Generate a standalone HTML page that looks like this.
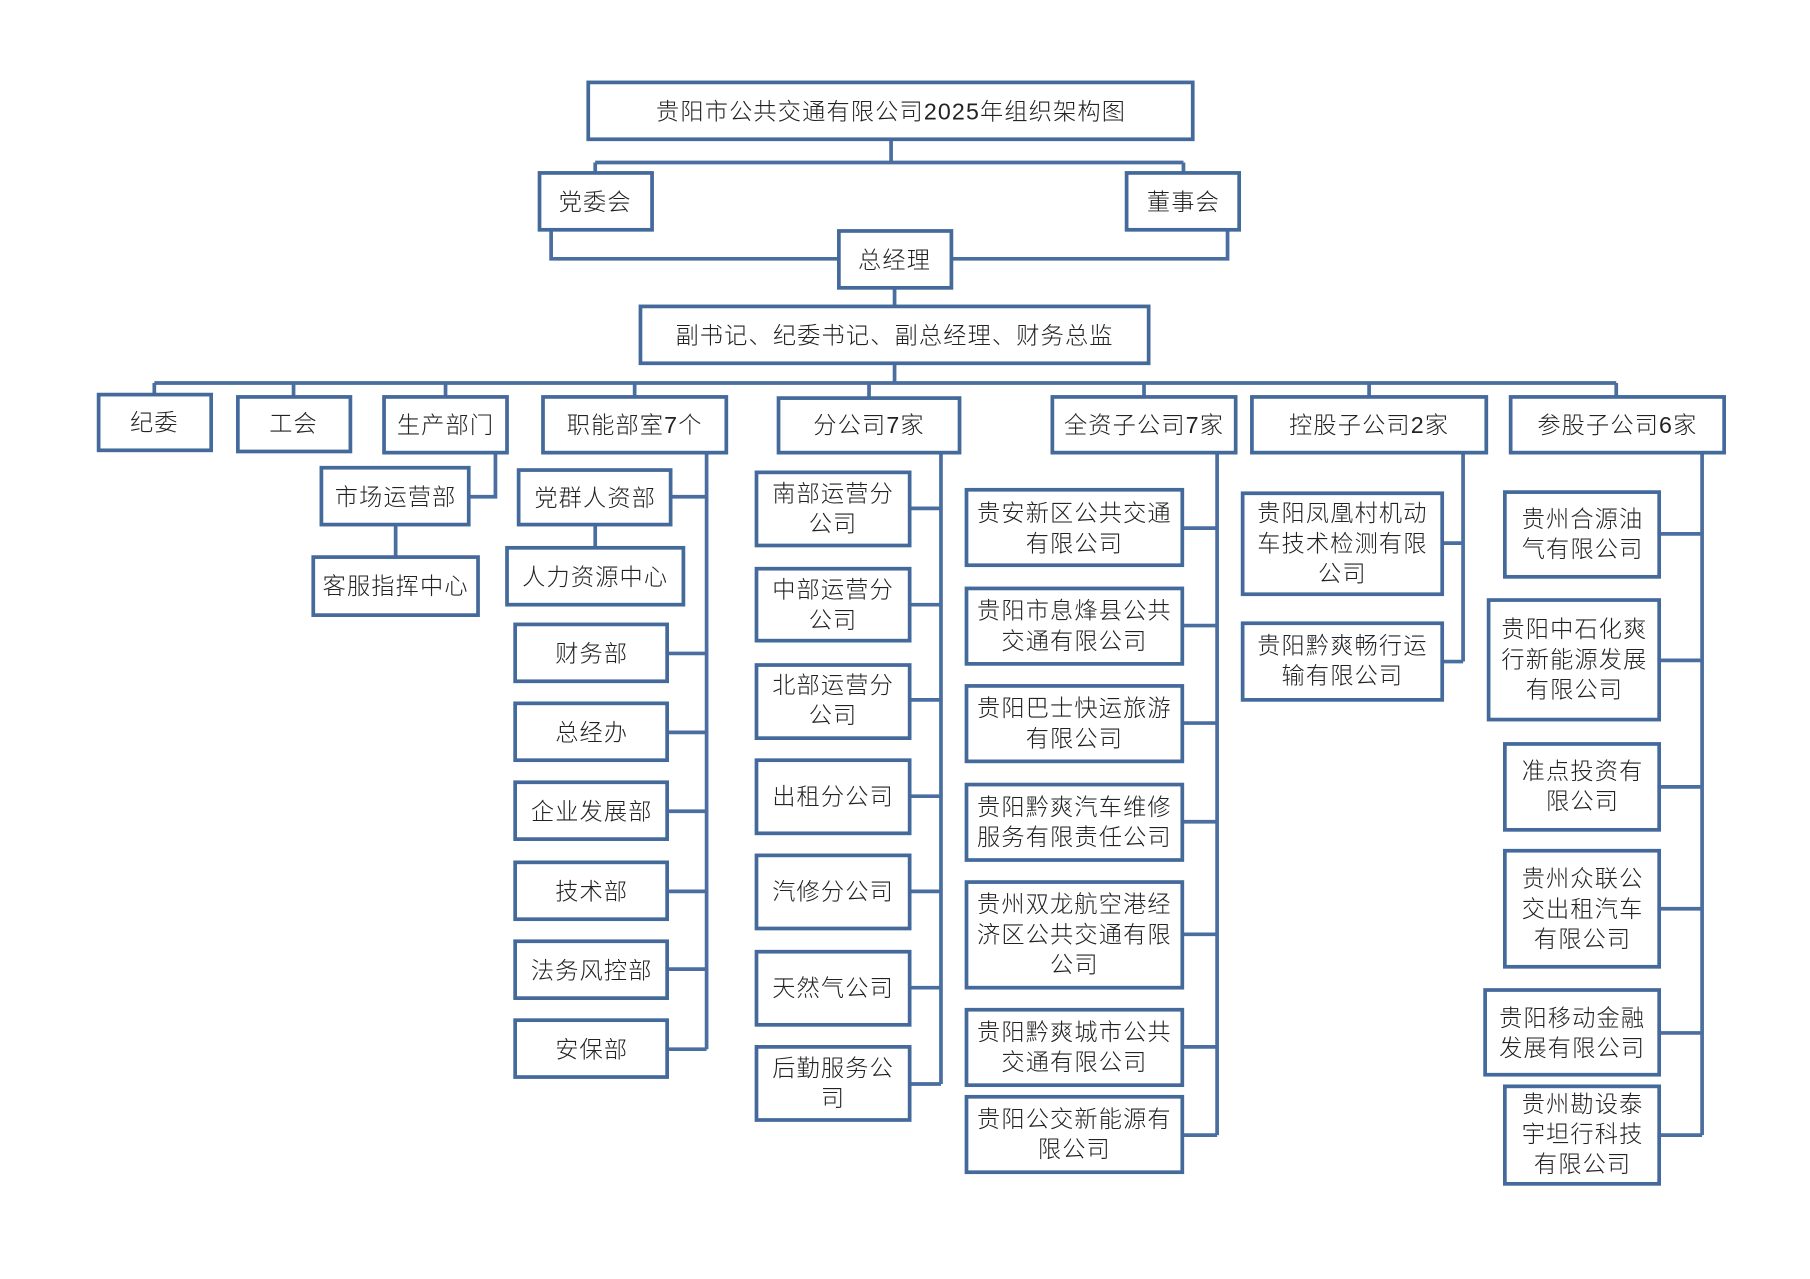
<!DOCTYPE html>
<html><head><meta charset="utf-8">
<style>
html,body{margin:0;padding:0;background:#fff;}
svg{display:block;}
text{font-family:"Liberation Sans","Noto Sans CJK SC",sans-serif;font-size:20px;fill:#222;font-weight:300;text-anchor:middle;letter-spacing:1px;}
.b{fill:#fff;stroke:#44699b;stroke-width:3.2;}
.l{stroke:#4a6e9f;stroke-width:3.2;fill:none;}
</style></head>
<body>
<svg width="1810" height="1279" viewBox="0 0 1560 1102" preserveAspectRatio="none" xmlns="http://www.w3.org/2000/svg">
<!-- connectors -->
<g class="l">
<path d="M768 120V140M513 140H1020M513 140V149M1020 140V149"/>
<path d="M475 198V223H723M1058 198V223H820"/>
<path d="M771 248V264M771 313V330M133 330H1393"/>
<path d="M133 330V340M253 330V342M384 330V342M547 330V342M749 330V343M986 330V342M1180 330V342M1393 330V342"/>
<path d="M427 390V428H404M341 452V480"/>
<path d="M609 390V904M578 428H609M513 452V472M575 563H609M575 631H609M575 699H609M575 768H609M575 835H609M575 904H609"/>
<path d="M811 390V934M784 438H811M784 521H811M784 603H811M784 686H811M784 768H811M784 851H811M784 934H811"/>
<path d="M1049 390V978M1019 455H1049M1019 539H1049M1019 623H1049M1019 708H1049M1019 805H1049M1019 902H1049M1019 978H1049"/>
<path d="M1261 390V570M1243 468H1261M1243 570H1261"/>
<path d="M1467 390V978M1430 460H1467M1430 569H1467M1430 678H1467M1430 783H1467M1430 890H1467M1430 978H1467"/>
</g>
<!-- boxes -->
<rect class="b" x="507" y="71" width="521" height="49"/><text x="768" y="103">贵阳市公共交通有限公司2025年组织架构图</text>
<rect class="b" x="465" y="149" width="97" height="49"/><text x="513" y="181">党委会</text>
<rect class="b" x="971" y="149" width="97" height="49"/><text x="1020" y="181">董事会</text>
<rect class="b" x="723" y="199" width="97" height="49"/><text x="771" y="231">总经理</text>
<rect class="b" x="552" y="264" width="438" height="49"/><text x="771" y="296">副书记、纪委书记、副总经理、财务总监</text>

<rect class="b" x="85" y="340" width="97" height="48"/><text x="133" y="371">纪委</text>
<rect class="b" x="205" y="342" width="97" height="47"/><text x="253" y="372">工会</text>
<rect class="b" x="331" y="342" width="106" height="48"/><text x="384" y="373">生产部门</text>
<rect class="b" x="468" y="342" width="158" height="48"/><text x="547" y="373">职能部室7个</text>
<rect class="b" x="671" y="343" width="156" height="47"/><text x="749" y="373">分公司7家</text>
<rect class="b" x="907" y="342" width="158" height="48"/><text x="986" y="373">全资子公司7家</text>
<rect class="b" x="1079" y="342" width="202" height="48"/><text x="1180" y="373">控股子公司2家</text>
<rect class="b" x="1302" y="342" width="184" height="48"/><text x="1394" y="373">参股子公司6家</text>

<rect class="b" x="277" y="403" width="127" height="49"/><text x="341" y="435">市场运营部</text>
<rect class="b" x="270" y="480" width="142" height="50"/><text x="341" y="512">客服指挥中心</text>

<rect class="b" x="447" y="405" width="131" height="47"/><text x="513" y="436">党群人资部</text>
<rect class="b" x="437" y="472" width="152" height="49"/><text x="513" y="504">人力资源中心</text>
<rect class="b" x="444" y="538" width="131" height="49"/><text x="510" y="570">财务部</text>
<rect class="b" x="444" y="606" width="131" height="49"/><text x="510" y="638">总经办</text>
<rect class="b" x="444" y="674" width="131" height="49"/><text x="510" y="706">企业发展部</text>
<rect class="b" x="444" y="743" width="131" height="49"/><text x="510" y="775">技术部</text>
<rect class="b" x="444" y="811" width="131" height="49"/><text x="510" y="843">法务风控部</text>
<rect class="b" x="444" y="879" width="131" height="49"/><text x="510" y="911">安保部</text>

<rect class="b" x="652" y="407" width="132" height="63"/><text x="718" y="432">南部运营分</text><text x="718" y="458">公司</text>
<rect class="b" x="652" y="490" width="132" height="62"/><text x="718" y="515">中部运营分</text><text x="718" y="541">公司</text>
<rect class="b" x="652" y="573" width="132" height="63"/><text x="718" y="597">北部运营分</text><text x="718" y="623">公司</text>
<rect class="b" x="652" y="655" width="132" height="63"/><text x="718" y="693">出租分公司</text>
<rect class="b" x="652" y="737" width="132" height="63"/><text x="718" y="775">汽修分公司</text>
<rect class="b" x="652" y="820" width="132" height="63"/><text x="718" y="858">天然气公司</text>
<rect class="b" x="652" y="902" width="132" height="63"/><text x="718" y="927">后勤服务公</text><text x="718" y="953">司</text>

<rect class="b" x="833" y="422" width="186" height="65"/><text x="926" y="449">贵安新区公共交通</text><text x="926" y="475">有限公司</text>
<rect class="b" x="833" y="507" width="186" height="65"/><text x="926" y="533">贵阳市息烽县公共</text><text x="926" y="559">交通有限公司</text>
<rect class="b" x="833" y="591" width="186" height="65"/><text x="926" y="617">贵阳巴士快运旅游</text><text x="926" y="643">有限公司</text>
<rect class="b" x="833" y="676" width="186" height="65"/><text x="926" y="702">贵阳黔爽汽车维修</text><text x="926" y="728">服务有限责任公司</text>
<rect class="b" x="833" y="760" width="186" height="91"/><text x="926" y="786">贵州双龙航空港经</text><text x="926" y="812">济区公共交通有限</text><text x="926" y="838">公司</text>
<rect class="b" x="833" y="870" width="186" height="65"/><text x="926" y="896">贵阳黔爽城市公共</text><text x="926" y="922">交通有限公司</text>
<rect class="b" x="833" y="945" width="186" height="65"/><text x="926" y="971">贵阳公交新能源有</text><text x="926" y="997">限公司</text>

<rect class="b" x="1071" y="425" width="172" height="87"/><text x="1157" y="449">贵阳凤凰村机动</text><text x="1157" y="475">车技术检测有限</text><text x="1157" y="501">公司</text>
<rect class="b" x="1071" y="537" width="172" height="66"/><text x="1157" y="563">贵阳黔爽畅行运</text><text x="1157" y="589">输有限公司</text>

<rect class="b" x="1297" y="424" width="133" height="73"/><text x="1364" y="454">贵州合源油</text><text x="1364" y="480">气有限公司</text>
<rect class="b" x="1283" y="517" width="147" height="103"/><text x="1357" y="549">贵阳中石化爽</text><text x="1357" y="575">行新能源发展</text><text x="1357" y="601">有限公司</text>
<rect class="b" x="1297" y="641" width="133" height="74"/><text x="1364" y="671">准点投资有</text><text x="1364" y="697">限公司</text>
<rect class="b" x="1297" y="733" width="133" height="100"/><text x="1364" y="764">贵州众联公</text><text x="1364" y="790">交出租汽车</text><text x="1364" y="816">有限公司</text>
<rect class="b" x="1280" y="853" width="150" height="73"/><text x="1355" y="884">贵阳移动金融</text><text x="1355" y="910">发展有限公司</text>
<rect class="b" x="1297" y="936" width="133" height="84"/><text x="1364" y="958">贵州勘设泰</text><text x="1364" y="984">宇坦行科技</text><text x="1364" y="1010">有限公司</text>
</svg>
</body></html>
